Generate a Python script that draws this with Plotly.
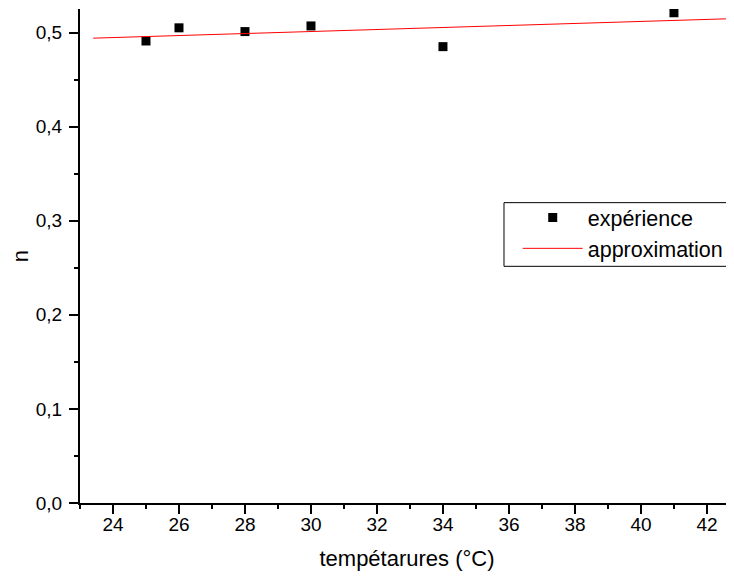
import plotly.graph_objects as go

# Data
temperatures = [25, 26, 28, 30, 34, 41]
n_experience = [0.491, 0.505, 0.501, 0.507, 0.485, 0.521]
fit_x = [23.4, 42.63]
fit_y = [0.494, 0.5146]

FONT = "Liberation Sans, Arial, sans-serif"

fig = go.Figure()
fig.add_trace(go.Scatter(
    x=temperatures, y=n_experience, mode="markers", name="expérience",
    marker=dict(symbol="square", size=9, color="black"),
))
fig.add_trace(go.Scatter(
    x=fit_x, y=fit_y, mode="lines", name="approximation",
    line=dict(color="red", width=1),
))

axis_common = dict(
    showline=True, linecolor="black", linewidth=2,
    ticks="outside", ticklen=9, tickwidth=2, tickcolor="black",
    showgrid=False, zeroline=False, mirror=False,
    tickfont=dict(family=FONT, size=19, color="black"),
)

fig.update_xaxes(
    range=[23, 42.82], tick0=24, dtick=2,
    minor=dict(ticks="outside", ticklen=4, tickwidth=2, tickcolor="black", dtick=1, tick0=23),
    ticklabelstandoff=-6,
    title=dict(text="tempétarures (°C)", font=dict(family=FONT, size=22, color="black"), standoff=19),
    **axis_common,
)
fig.update_yaxes(
    range=[0, 0.525], tick0=0, dtick=0.1, tickformat=".1f",
    minor=dict(ticks="outside", ticklen=4, tickwidth=2, tickcolor="black", dtick=0.05, tick0=0),
    ticklabelstandoff=3,
    title=dict(text="n", font=dict(family=FONT, size=22, color="black"), standoff=11),
    **axis_common,
)

# legend frame (extends past the right edge, as in the reference)
fig.add_shape(
    type="rect", xref="paper", yref="paper",
    x0=0.6483, x1=1.2, y0=0.4791, y1=0.608,
    line=dict(color="black", width=1), fillcolor="white", layer="above",
)

fig.update_layout(
    width=726, height=563,
    margin=dict(l=72, r=0, t=1.3, b=68.3, autoexpand=False),
    paper_bgcolor="white", plot_bgcolor="white",
    separators=", ",
    showlegend=True,
    legend=dict(
        x=0.6693, y=0.6196, xanchor="left", yanchor="top",
        bgcolor="rgba(255,255,255,0)", bordercolor="rgba(255,255,255,0)", borderwidth=0,
        font=dict(family=FONT, size=21.5, color="black"),
        itemwidth=60, tracegroupgap=0,
    ),
    font=dict(family=FONT, color="black"),
)

fig.write_html("out.html")
